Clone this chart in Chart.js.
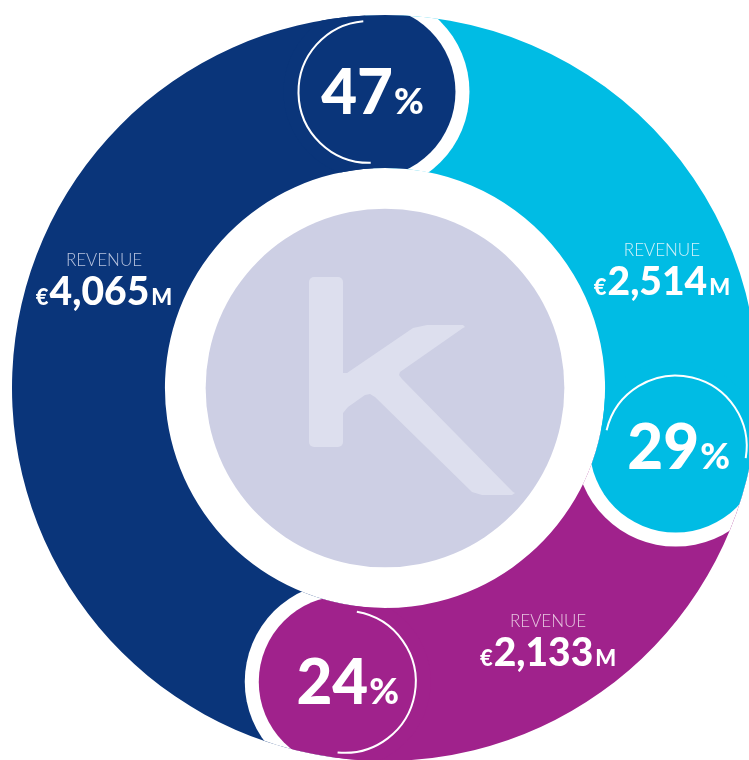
<!DOCTYPE html>
<html>
<head>
<meta charset="utf-8">
<script src="https://cdn.jsdelivr.net/npm/chart.js@4"></script>
<style>
  html, body { margin: 0; padding: 0; background: #fff; overflow: hidden; width: 749px; height: 760px; }
  #wrap { position: absolute; left: 0; top: 0; width: 770px; height: 776px; }
</style>
</head>
<body>
<div id="wrap"><canvas id="ringChart" width="770" height="776"></canvas></div>
<script>
// Daten (Reihenfolge im Uhrzeigersinn ab oben)
const segments = ["Segment B", "Segment C", "Segment A"];
const shares = [29, 24, 47];            // Anteil in %
const revenues = [2514, 2133, 4065];    // Umsatz in Mio. €

// Farben
const segmentColors = ["#00BCE4", "#A0228C", "#0A357A"];
const captionColors = ["#D3F1FA", "#E6C6E0", "#B8C3DE"];

const FONT = "Lato, 'Open Sans', sans-serif";
const deg = Math.PI / 180;

const ringDecor = {
  id: "ringDecor",
  afterDatasetsDraw(chart, args, opts) {
    const ctx = chart.ctx;
    const arcs = chart.getDatasetMeta(0).data;
    const cx = arcs[0].x, cy = arcs[0].y;
    const outer = arcs[0].outerRadius, inner = arcs[0].innerRadius;
    const mid = (outer + inner) / 2;
    const s = outer / 373;

    // Kreis in der Mitte
    ctx.save();
    ctx.fillStyle = "#CDCFE4";
    ctx.beginPath();
    ctx.arc(cx, cy, inner * 0.815, 0, 2 * Math.PI);
    ctx.fill();

    // "K" Logo
    ctx.fillStyle = "#DDDFEE";
    ctx.beginPath();
    ctx.roundRect(cx - 76 * s, cy - 111 * s, 34 * s, 170 * s, 5 * s);
    ctx.fill();
    const kPts = [[-42,-15],[-38,-15],[28,-60],[42,-63],[78,-63],[80,-61],[78,-60],[15,-16],[14,-13],[17,-9],
                  [128,104],[130,105],[127,107],[97,107],[87,104],[-10,9],[-15,6],[-20,7],[-37,19],[-42,25]];
    ctx.beginPath();
    kPts.forEach((p, i) => {
      const x = cx + p[0] * s, y = cy + p[1] * s;
      if (i === 0) ctx.moveTo(x, y); else ctx.lineTo(x, y);
    });
    ctx.closePath();
    ctx.fill();
    ctx.restore();

    const clipRing = () => {
      ctx.beginPath();
      ctx.arc(cx, cy, outer, 0, 2 * Math.PI);
      ctx.arc(cx, cy, inner, 0, 2 * Math.PI, true);
      ctx.clip();
    };

    const R = opts.capRadius * s, gap = opts.gap * s;

    arcs.forEach((arc, i) => {
      const next = arcs[(i + 1) % arcs.length];
      const e = arc.endAngle;
      const bx = cx + mid * Math.cos(e), by = cy + mid * Math.sin(e);

      // weisser Spalt ins nächste Segment
      ctx.save();
      clipRing();
      ctx.beginPath();
      ctx.moveTo(cx, cy);
      ctx.arc(cx, cy, outer + 4, next.startAngle, next.endAngle);
      ctx.closePath();
      ctx.clip();
      ctx.fillStyle = "#fff";
      ctx.beginPath();
      ctx.arc(bx, by, R + gap, 0, 2 * Math.PI);
      ctx.fill();
      ctx.restore();

      // runde Kappe
      ctx.save();
      clipRing();
      ctx.fillStyle = segmentColors[i];
      ctx.beginPath();
      ctx.arc(bx, by, R, 0, 2 * Math.PI);
      ctx.fill();
      ctx.restore();

      // dünner Bogen
      const a = e - Math.PI / 2;
      ctx.save();
      ctx.strokeStyle = "#fff";
      ctx.lineWidth = 2;
      ctx.beginPath();
      ctx.arc(bx, by, 71 * s, a - 88 * deg, a + 88 * deg);
      ctx.stroke();

      // Prozent
      const num = String(shares[i]);
      ctx.fillStyle = "#fff";
      ctx.textBaseline = "alphabetic";
      ctx.textAlign = "left";
      ctx.font = `900 ${62 * s}px ${FONT}`;
      const w1 = ctx.measureText(num).width;
      ctx.font = `900 ${36 * s}px ${FONT}`;
      const w2 = ctx.measureText("%").width;
      const x0 = bx - (w1 + 1 * s + w2) / 2 + 3 * s;
      const base = by + 22 * s;
      ctx.font = `900 ${62 * s}px ${FONT}`;
      ctx.fillText(num, x0, base);
      ctx.font = `900 ${36 * s}px ${FONT}`;
      ctx.fillText("%", x0 + w1 + 1 * s, base);
      ctx.restore();
    });

    // Umsatz-Beschriftungen
    arcs.forEach((arc, i) => {
      const ang = arc.startAngle + opts.labelFrac[i] * (arc.endAngle - arc.startAngle);
      const px = cx + 301 * s * Math.cos(ang), py = cy + 301 * s * Math.sin(ang);
      ctx.save();
      ctx.textBaseline = "alphabetic";
      ctx.fillStyle = captionColors[i];
      ctx.textAlign = "center";
      ctx.font = `300 ${17 * s}px ${FONT}`;
      ctx.fillText("REVENUE", px, py - 14 * s);

      const digits = revenues[i].toLocaleString("en-US");
      ctx.fillStyle = "#fff";
      ctx.textAlign = "left";
      ctx.font = `900 ${22 * s}px ${FONT}`;
      const we = ctx.measureText("€").width;
      const wm = ctx.measureText("M").width;
      ctx.font = `900 ${39 * s}px ${FONT}`;
      const wd = ctx.measureText(digits).width;
      let x = px - (we + wd + wm + 3 * s) / 2;
      const base = py + 25 * s;
      ctx.font = `900 ${22 * s}px ${FONT}`;
      ctx.fillText("€", x, base);
      x += we + 1 * s;
      ctx.font = `900 ${39 * s}px ${FONT}`;
      ctx.fillText(digits, x, base);
      x += wd + 2 * s;
      ctx.font = `900 ${22 * s}px ${FONT}`;
      ctx.fillText("M", x, base);
      ctx.restore();
    });
  }
};

const ctx = document.getElementById("ringChart").getContext("2d");
new Chart(ctx, {
  type: "doughnut",
  data: {
    labels: segments,
    datasets: [{
      data: shares,
      backgroundColor: segmentColors,
      borderWidth: 0
    }]
  },
  options: {
    responsive: false,
    animation: false,
    events: [],
    rotation: -3,
    cutout: "59%",
    layout: { padding: 12 },
    plugins: {
      legend: { display: false },
      tooltip: { enabled: false },
      ringDecor: { capRadius: 86, gap: 14, labelFrac: [0.67, 0.53, 0.61] }
    }
  },
  plugins: [ringDecor]
});
</script>
</body>
</html>
